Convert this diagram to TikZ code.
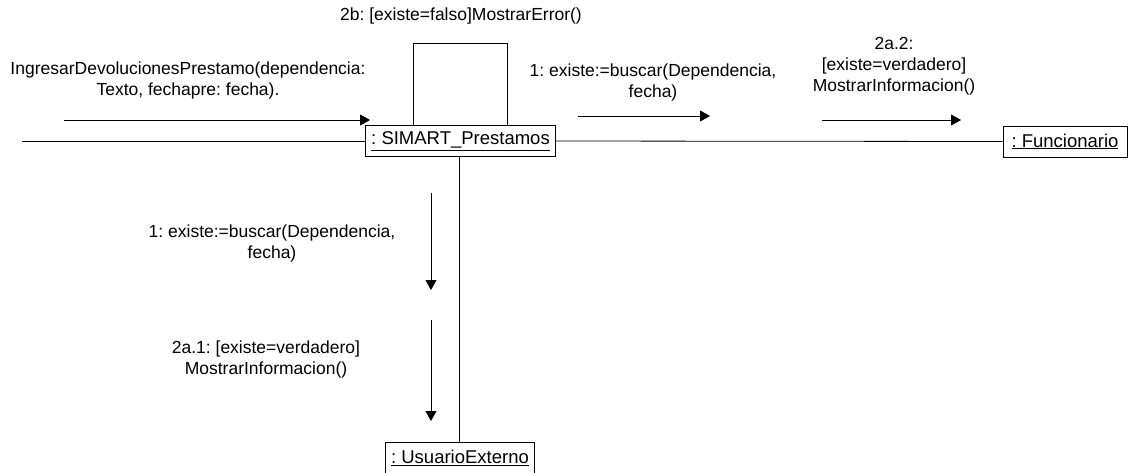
\documentclass[tikz,border=0pt]{standalone}
\usepackage{fontspec}
\setmainfont{Liberation Sans}
\frenchspacing
\usetikzlibrary{arrows.meta}
\tikzset{
  object/.style={draw, line width=0.9pt, minimum height=31pt, inner xsep=5.5pt, inner ysep=0pt, font=\fontsize{18.5}{20}\selectfont},
  link/.style={line width=0.8pt},
  msg/.style={line width=0.8pt, -{Triangle[length=10pt,width=11pt]}},
  msglabel/.style={align=center, font=\fontsize{17.5}{21}\selectfont, inner sep=0pt}
}

\begin{document}
\begin{tikzpicture}[x=1pt,y=-1pt]
  \useasboundingbox (0,0) rectangle (1138,472);

  % objects
  \node[object] (S) at (460.5,141) {\underline{: SIMART\_Prestamos}};
  \node[object, minimum width=124pt] (F) at (1065,141.5) {\underline{: Funcionario}};
  \node[object] (U) at (460,457.5) {\underline{: UsuarioExterno}};
  \coordinate (actor) at (22,141);

  % links
  \draw[link] (actor) -- (S.west);
  \draw[link] (S.east) -- (F.west);
  \draw[link] (S.south -| 459,0) -- (U.north -| 459,0);
  \draw[link] (S.north -| 413,0) |- (507,43) -- (S.north -| 507,0);

  % messages
  \coordinate (m0a) at (64,120);  \coordinate (m0b) at (370,120);
  \coordinate (m1a) at (578,116); \coordinate (m1b) at (710,116);
  \coordinate (m2a) at (822,120); \coordinate (m2b) at (961,120);
  \coordinate (m3a) at (431,193); \coordinate (m3b) at (431,290);
  \coordinate (m4a) at (431,320); \coordinate (m4b) at (431,421);
  \draw[msg] (m0a) -- (m0b);
  \draw[msg] (m1a) -- (m1b);
  \draw[msg] (m2a) -- (m2b);
  \draw[msg] (m3a) -- (m3b);
  \draw[msg] (m4a) -- (m4b);

  \node[msglabel] (l0) at (188,80) {IngresarDevolucionesPrestamo(dependencia:\\Texto, fechapre: fecha).};
  \node[msglabel] (l1) at (461,16) {2b: {[}existe=falso{]}MostrarError()};
  \node[msglabel] (l2) at (653,82) {1: existe:=buscar(Dependencia,\\fecha)};
  \node[msglabel] (l3) at (894,66) {2a.2:\\{[}existe=verdadero{]}\\MostrarInformacion()};
  \node[msglabel] (l4) at (272,243) {1: existe:=buscar(Dependencia,\\fecha)};
  \node[msglabel] (l5) at (266,359) {2a.1: {[}existe=verdadero{]}\\MostrarInformacion()};
\end{tikzpicture}
\end{document}
